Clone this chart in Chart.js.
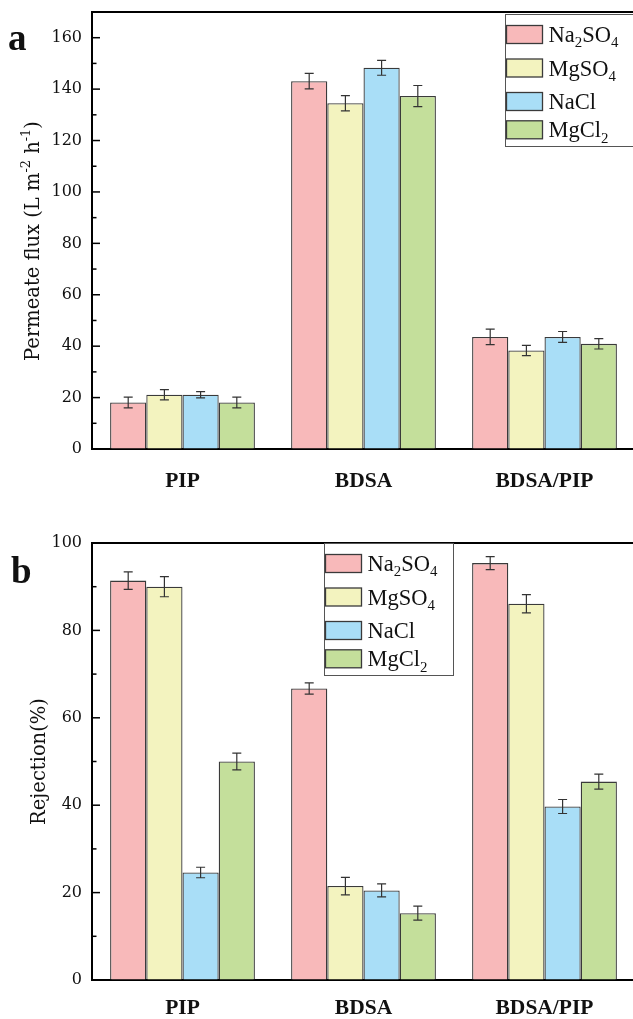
<!DOCTYPE html>
<html>
<head>
<meta charset="utf-8">
<script src="https://cdn.jsdelivr.net/npm/chart.js@4.4.1/dist/chart.umd.min.js"></script>
<style>
  html, body { margin: 0; padding: 0; background: #fff; overflow: hidden; }
  canvas { display: block; }
</style>
</head>
<body>
<canvas id="fluxChart" width="640" height="505"></canvas>
<canvas id="rejectionChart" width="640" height="514"></canvas>
<script>
// Datos
const categories = ['PIP', 'BDSA', 'BDSA/PIP'];
const salts = ['Na2SO4', 'MgSO4', 'NaCl', 'MgCl2'];
const saltColors = ['#F8B9BA', '#F3F3BF', '#A9DEF7', '#C4DF9B'];

// (a) Flujo de permeado (L m-2 h-1)
const fluxNa2SO4 = [18.1, 143.1, 43.6];
const fluxMgSO4 = [21.1, 134.5, 38.3];
const fluxNaCl = [21.1, 148.3, 43.6];
const fluxMgCl2 = [18.1, 137.3, 40.9];
const fluxErrNa2SO4 = [2.1, 3.0, 3.0];
const fluxErrMgSO4 = [2.0, 3.0, 2.0];
const fluxErrNaCl = [1.2, 2.9, 2.1];
const fluxErrMgCl2 = [2.1, 4.1, 2.0];
const fluxTicks = [0, 20, 40, 60, 80, 100, 120, 140, 160];

// (b) Rechazo (%)
const rejNa2SO4 = [91.4, 66.7, 95.4];
const rejMgSO4 = [90.0, 21.5, 86.1];
const rejNaCl = [24.6, 20.5, 39.7];
const rejMgCl2 = [50.0, 15.3, 45.4];
const rejErrNa2SO4 = [2.0, 1.3, 1.5];
const rejErrMgSO4 = [2.3, 2.0, 2.1];
const rejErrNaCl = [1.2, 1.5, 1.6];
const rejErrMgCl2 = [1.9, 1.6, 1.7];
const rejTicks = [0, 20, 40, 60, 80, 100];

const serif = "'DejaVu Serif', serif";
const times = "'Liberation Serif', 'Times New Roman', serif";

// Dibuja un texto donde los dígitos van como subíndice o superíndice
function drawParts(ctx, parts, x, y, size) {
    parts.forEach(p => {
        const s = p.mode ? size * 0.66 : size;
        ctx.font = `${s}px ${p.family}`;
        const dy = p.mode === 'sub' ? size * 0.24 : (p.mode === 'sup' ? -size * 0.42 : 0);
        ctx.fillText(p.text, x, y + dy);
        x += ctx.measureText(p.text).width;
    });
}

function partsWidth(ctx, parts, size) {
    let w = 0;
    parts.forEach(p => {
        const s = p.mode ? size * 0.66 : size;
        ctx.font = `${s}px ${p.family}`;
        w += ctx.measureText(p.text).width;
    });
    return w;
}

function formulaParts(name) {
    return name.split(/(\d+)/).filter(t => t).map(t => ({
        text: t, mode: /\d/.test(t) ? 'sub' : null, family: times
    }));
}

// Plugin: barras de error, marco, ticks hacia dentro, leyenda, título del eje y letra del panel
const decorPlugin = {
    id: 'decor',
    afterDatasetsDraw(chart) {
        const ctx = chart.ctx;
        const yScale = chart.scales.y;
        ctx.save();
        ctx.strokeStyle = '#333';
        ctx.lineWidth = 1.2;
        chart.data.datasets.forEach((ds, i) => {
            const meta = chart.getDatasetMeta(i);
            meta.data.forEach((bar, j) => {
                const top = yScale.getPixelForValue(ds.data[j] + ds.errors[j]);
                const bot = yScale.getPixelForValue(ds.data[j] - ds.errors[j]);
                ctx.beginPath();
                ctx.moveTo(bar.x, top); ctx.lineTo(bar.x, bot);
                ctx.moveTo(bar.x - 4.5, top); ctx.lineTo(bar.x + 4.5, top);
                ctx.moveTo(bar.x - 4.5, bot); ctx.lineTo(bar.x + 4.5, bot);
                ctx.stroke();
            });
        });
        ctx.restore();
    },
    afterDraw(chart, args, opts) {
        const ctx = chart.ctx;
        const area = chart.chartArea;
        const yScale = chart.scales.y;
        ctx.save();

        // Marco superior y derecho
        ctx.strokeStyle = '#000';
        ctx.lineWidth = 2;
        ctx.beginPath();
        ctx.moveTo(area.left, area.top); ctx.lineTo(area.right, area.top);
        ctx.lineTo(area.right, area.bottom);
        ctx.stroke();

        // Ticks mayores y menores hacia dentro
        ctx.lineWidth = 1.5;
        const ticks = opts.ticks;
        const step = ticks[1] - ticks[0];
        ticks.forEach(v => {
            let py = yScale.getPixelForValue(v);
            ctx.beginPath();
            ctx.moveTo(area.left, py); ctx.lineTo(area.left + 8, py);
            ctx.stroke();
            if (v + step / 2 < yScale.max) {
                py = yScale.getPixelForValue(v + step / 2);
                ctx.beginPath();
                ctx.moveTo(area.left, py); ctx.lineTo(area.left + 4.5, py);
                ctx.stroke();
            }
        });

        // Leyenda
        const lg = opts.legend;
        ctx.fillStyle = '#fff';
        ctx.fillRect(lg.x, lg.y, 129, 132);
        ctx.strokeStyle = '#555';
        ctx.lineWidth = 1;
        ctx.strokeRect(lg.x + 0.5, lg.y + 0.5, 129, 132);
        const rows = [20.5, 54, 87.5, 115.8];
        chart.data.datasets.forEach((ds, i) => {
            const cy = lg.y + rows[i];
            ctx.fillStyle = ds.backgroundColor;
            ctx.fillRect(lg.x + 1.5, cy - 9, 36, 18);
            ctx.strokeStyle = '#3a3a3a';
            ctx.lineWidth = 1.3;
            ctx.strokeRect(lg.x + 1.5, cy - 9, 36, 18);
            ctx.fillStyle = '#111';
            ctx.textBaseline = 'alphabetic';
            drawParts(ctx, formulaParts(ds.label), lg.x + 43.5, cy + 7.5, 22.5);
        });

        // Título del eje Y (girado)
        ctx.translate(opts.title.x, opts.title.y);
        ctx.rotate(-Math.PI / 2);
        ctx.fillStyle = '#111';
        ctx.textBaseline = 'alphabetic';
        const tw = partsWidth(ctx, opts.title.parts, 19.5);
        drawParts(ctx, opts.title.parts, -tw / 2, 0, 19.5);
        ctx.setTransform(1, 0, 0, 1, 0, 0);

        // Letra del panel
        ctx.font = `bold 37px ${times}`;
        ctx.fillStyle = '#111';
        ctx.fillText(opts.letter.text, opts.letter.x, opts.letter.y);
        ctx.restore();
    }
};

function makeDatasets(values, errors) {
    return salts.map((name, i) => ({
        label: name,
        data: values[i],
        errors: errors[i],
        backgroundColor: saltColors[i],
        borderColor: '#3a3a3a',
        borderWidth: 1.3,
        categoryPercentage: 0.8,
        barPercentage: 1.0
    }));
}

function makeOptions(cfg) {
    return {
        responsive: false,
        animation: false,
        devicePixelRatio: 1,
        layout: { padding: { top: cfg.padTop, right: 5, left: 0, bottom: 0 } },
        plugins: {
            legend: { display: false },
            tooltip: { enabled: false },
            decor: cfg.decor
        },
        scales: {
            x: {
                grid: { display: true, drawOnChartArea: false, drawTicks: false },
                border: { display: true, color: '#000', width: 2 },
                ticks: {
                    color: '#111',
                    padding: cfg.xPad,
                    font: { family: times, size: 21.5, weight: 'bold' }
                },
                afterFit: s => {
                    s.height = cfg.xHeight;
                    s.paddingLeft = 0; s.paddingRight = 0;
                }
            },
            y: {
                min: 0,
                max: cfg.max,
                grid: { display: true, drawOnChartArea: false, drawTicks: false },
                border: { display: true, color: '#000', width: 2 },
                ticks: {
                    color: '#111',
                    padding: 10,
                    font: { family: serif, size: 16 }
                },
                afterBuildTicks: s => { s.ticks = cfg.ticks.map(v => ({ value: v })); },
                afterFit: s => {
                    s.width = 92;
                    s.paddingTop = 0; s.paddingBottom = 0;
                }
            }
        }
    };
}

// Gráfica (a)
new Chart(document.getElementById('fluxChart'), {
    type: 'bar',
    data: {
        labels: categories,
        datasets: makeDatasets(
            [fluxNa2SO4, fluxMgSO4, fluxNaCl, fluxMgCl2],
            [fluxErrNa2SO4, fluxErrMgSO4, fluxErrNaCl, fluxErrMgCl2])
    },
    options: makeOptions({
        max: 170, ticks: fluxTicks, padTop: 12, xHeight: 56, xPad: 20,
        decor: {
            ticks: fluxTicks,
            legend: { x: 505, y: 14 },
            letter: { text: 'a', x: 8, y: 50 },
            title: {
                x: 38.5, y: 241,
                parts: [
                    { text: 'Permeate flux (L m', family: serif },
                    { text: '-2', mode: 'sup', family: serif },
                    { text: ' h', family: serif },
                    { text: '-1', mode: 'sup', family: serif },
                    { text: ')', family: serif }
                ]
            }
        }
    }),
    plugins: [decorPlugin]
});

// Gráfica (b)
new Chart(document.getElementById('rejectionChart'), {
    type: 'bar',
    data: {
        labels: categories,
        datasets: makeDatasets(
            [rejNa2SO4, rejMgSO4, rejNaCl, rejMgCl2],
            [rejErrNa2SO4, rejErrMgSO4, rejErrNaCl, rejErrMgCl2])
    },
    options: makeOptions({
        max: 100, ticks: rejTicks, padTop: 38, xHeight: 39, xPad: 16,
        decor: {
            ticks: rejTicks,
            legend: { x: 324, y: 38 },
            letter: { text: 'b', x: 11, y: 78 },
            title: {
                x: 45, y: 256.5,
                parts: [{ text: 'Rejection(%)', family: serif }]
            }
        }
    }),
    plugins: [decorPlugin]
});
</script>
</body>
</html>
